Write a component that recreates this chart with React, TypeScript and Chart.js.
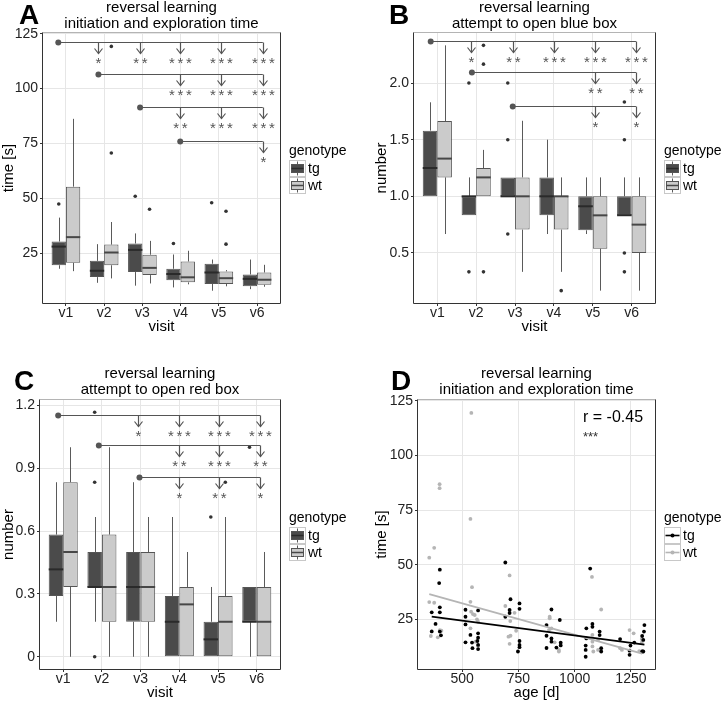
import React, { useEffect, useRef } from 'react';
import { Chart, registerables } from 'chart.js';

Chart.register(...registerables);

const FONT = "'Liberation Sans', Arial, Helvetica, sans-serif";
Chart.defaults.font.family = FONT;

// ---------------- data ----------------
const visits = ['v1', 'v2', 'v3', 'v4', 'v5', 'v6'];
const genotypes = ['tg', 'wt'];

// box stats per visit: [lower whisker, Q1, median, Q3, upper whisker]
// Panel A: initiation and exploration time [s]
const timeTg = [
  [17.9, 19.5, 28.0, 30.3, 41.2],
  [11.5, 14.1, 17.0, 21.5, 29.1],
  [10.2, 16.4, 26.5, 29.4, 34.0],
  [9.4, 12.7, 15.5, 17.9, 24.4],
  [7.9, 11.0, 16.2, 20.2, 22.1],
  [8.6, 9.9, 13.3, 15.3, 22.1],
];
const timeWt = [
  [16.8, 20.6, 32.3, 55.3, 86.2],
  [13.5, 19.5, 25.3, 28.9, 39.2],
  [11.2, 15.0, 18.3, 24.3, 30.6],
  [10.8, 11.7, 14.0, 21.2, 26.1],
  [9.9, 11.0, 13.6, 16.7, 17.3],
  [9.7, 10.6, 12.9, 16.2, 19.7],
];
const timeTgOut = [[47.4], [], [50.9], [29.4], [48.0], []];
const timeWtOut = [[], [70.6, 119.2], [45.0], [], [29.1, 44.1], []];
const timeTicks = [25, 50, 75, 100, 125];
const timeTickLabels = ['25', '50', '75', '100', '125'];

// Panel B: attempts to open blue box
const blueTg = [
  [1.0, 1.0, 1.25, 1.58, 1.83],
  [0.833, 0.833, 1.0, 1.0, 1.167],
  [1.0, 1.0, 1.0, 1.167, 1.167],
  [0.667, 0.833, 1.0, 1.167, 1.5],
  [0.667, 0.7, 0.912, 1.0, 1.167],
  [0.833, 0.833, 0.833, 1.0, 1.167],
];
const blueWt = [
  [0.667, 1.167, 1.333, 1.665, 2.333],
  [1.0, 1.0, 1.167, 1.25, 1.41],
  [0.333, 0.706, 1.0, 1.167, 1.667],
  [0.333, 0.706, 1.0, 1.0, 1.167],
  [0.167, 0.538, 0.832, 1.0, 1.167],
  [0.167, 0.5, 0.75, 1.0, 1.167],
];
const blueTgOut = [[], [0.333, 2.0], [0.667, 1.5, 2.0], [], [], [0.333, 0.5, 1.5, 1.833]];
const blueWtOut = [[], [0.333, 2.167, 2.333], [], [0.167], [], []];
const blueTicks = [0.5, 1.0, 1.5, 2.0];
const blueTickLabels = ['0.5', '1.0', '1.5', '2.0'];

// Panel C: attempts to open red box
const redTg = [
  [0.167, 0.29, 0.417, 0.583, 0.833],
  [0.167, 0.333, 0.333, 0.5, 0.667],
  [0, 0.167, 0.333, 0.5, 0.833],
  [0, 0, 0.167, 0.29, 0.667],
  [0, 0, 0.083, 0.167, 0.333],
  [0, 0.167, 0.167, 0.333, 0.333],
];
const redWt = [
  [0, 0.333, 0.5, 0.833, 1.0],
  [0, 0.167, 0.333, 0.583, 1.0],
  [0, 0.167, 0.333, 0.5, 0.667],
  [0, 0, 0.25, 0.333, 0.5],
  [0, 0, 0.167, 0.29, 0.667],
  [0, 0, 0.167, 0.333, 0.5],
];
const redTgOut = [[], [0, 0.833, 1.167], [], [], [0.667], [1.0]];
const redWtOut = [[], [], [], [], [0.833], []];
const redTicks = [0, 0.3, 0.6, 0.9, 1.2];
const redTickLabels = ['0', '0.3', '0.6', '0.9', '1.2'];

// significance brackets: reference visit position, level, compared positions, stars
const sigA = [
  { from: 0.8, level: 121.0, to: [1.83, 2.93, 3.99, 5.05, 6.15], stars: ['*', '**', '***', '***', '***'] },
  { from: 1.85, level: 106.5, to: [3.99, 5.05, 6.15], stars: ['***', '***', '***'] },
  { from: 2.94, level: 91.8, to: [3.99, 5.05, 6.15], stars: ['**', '***', '***'] },
  { from: 3.99, level: 76.0, to: [6.15], stars: ['*'] },
];
const sigB = [
  { from: 0.83, level: 2.368, to: [1.86, 2.94, 3.99, 5.05, 6.11], stars: ['*', '**', '***', '***', '***'] },
  { from: 1.89, level: 2.094, to: [5.05, 6.11], stars: ['**', '**'] },
  { from: 2.94, level: 1.8, to: [5.05, 6.11], stars: ['*', '*'] },
];
const sigC = [
  { from: 0.87, level: 1.156, to: [2.93, 3.99, 5.02, 6.09], stars: ['*', '***', '***', '***'] },
  { from: 1.92, level: 1.01, to: [3.99, 5.02, 6.09], stars: ['**', '***', '**'] },
  { from: 2.97, level: 0.857, to: [3.99, 5.02, 6.09], stars: ['*', '**', '*'] },
];

// Panel D: age [d] vs time [s]
const tgAge = [692, 401, 398, 715, 755, 755, 401, 401, 365, 515, 571, 515, 711, 711, 692, 515, 382, 365, 401, 406, 537, 571, 571, 568, 515, 544, 571, 546, 571, 755, 755, 755, 748, 1069, 897, 934, 875, 1052, 1079, 1079, 1111, 1111, 875, 897, 897, 938, 938, 875, 919, 1052, 1049, 1049, 1049, 1118, 1118, 1202, 1248, 1244, 1244, 1310, 1308, 1300, 1305, 1305, 1300, 1265];
const tgTime = [51.0, 47.7, 41.6, 34.2, 32.3, 29.8, 30.5, 28.2, 28.2, 29.4, 29.1, 26.2, 29.3, 27.9, 26.2, 22.7, 22.9, 19.5, 19.4, 17.7, 17.9, 18.6, 16.6, 15.1, 14.5, 14.4, 13.3, 11.8, 11.4, 15.1, 13.3, 12.3, 10.3, 48.2, 29.5, 24.7, 22.4, 20.9, 22.9, 21.6, 19.4, 17.8, 17.5, 16.3, 14.8, 14.3, 13.1, 11.9, 12.1, 16.3, 13.0, 11.0, 7.9, 11.8, 10.3, 16.0, 13.0, 10.7, 8.8, 22.4, 19.4, 17.4, 15.6, 10.3, 10.3, 14.4];
const wtAge = [541, 537, 400, 400, 376, 354, 711, 544, 354, 376, 537, 692, 540, 548, 556, 733, 714, 401, 537, 361, 392, 408, 740, 715, 706, 711, 566, 571, 559, 571, 1077, 1118, 889, 889, 886, 897, 911, 930, 930, 1079, 1079, 1079, 1083, 1104, 1104, 1244, 1262, 1202, 1210, 1287, 1300, 1298, 1298];
const wtTime = [119.4, 70.9, 86.8, 85.0, 57.7, 53.2, 45.1, 39.7, 32.9, 32.6, 33.0, 31.1, 28.5, 27.4, 27.0, 28.0, 24.2, 20.1, 20.9, 17.4, 16.8, 19.8, 19.8, 17.5, 17.1, 13.8, 25.0, 23.9, 14.8, 12.9, 44.4, 29.5, 26.2, 25.5, 20.1, 20.9, 14.5, 10.3, 11.0, 17.9, 14.8, 12.6, 10.3, 15.6, 11.0, 20.1, 18.6, 11.8, 11.0, 10.5, 10.5, 14.3, 16.0];
// fitted regression lines (end points)
const tgFitAge = [365, 1310];
const tgFitTime = [26.2, 13.4];
const wtFitAge = [354, 1300];
const wtFitTime = [36.5, 9.3];
const ageTicks = [500, 750, 1000, 1250];
const ageTickLabels = ['500', '750', '1000', '1250'];
const corrLabel = 'r = -0.45';
const corrStars = '***';

// ---------------- style ----------------
const TG_FILL = '#4b4b4b';
const WT_FILL = '#cbcbcb';
const BOX_LINE = '#555555';
const WHISKER = '#5a5a5a';
const MEDIAN_TG = '#2a2a2a';
const MEDIAN_WT = '#474747';
const GRID = '#e6e6e6';
const AXIS = '#333333';
const TICK_COL = '#222222';
const SIG = '#555555';
const TG_PT = '#000000';
const WT_PT = '#b5b5b5';

type Area = { l: number; t: number; r: number; b: number };
type Row = { from: number; level: number; to: number[]; stars: string[] };

interface Deco {
  letter: string; letterX: number; letterY: number;
  title: string[]; titleY: number[];
  yTitle: string; yTitleX: number; xTitle: string; xTitleY: number;
  legend: { x: number; titleY: number; keyTop: number; kind: 'box' | 'line' };
  extra?: (chart: any) => void;
}

function seg(ctx: CanvasRenderingContext2D, x0: number, y0: number, x1: number, y1: number) {
  ctx.beginPath();
  ctx.moveTo(x0, y0);
  ctx.lineTo(x1, y1);
  ctx.stroke();
}

const boxPlugin = {
  id: 'boxExtras',
  afterDatasetsDraw(chart: any) {
    const ctx: CanvasRenderingContext2D = chart.ctx;
    const y = chart.scales.y;
    chart.data.datasets.forEach((ds: any, di: number) => {
      const meta = chart.getDatasetMeta(di);
      meta.data.forEach((el: any, j: number) => {
        const s = ds.stats[j];
        const cx = Math.round(el.x) + 0.5;
        const w = el.width;
        ctx.save();
        ctx.strokeStyle = WHISKER;
        ctx.lineWidth = 1;
        const pLow = y.getPixelForValue(s[0]);
        const pQ1 = y.getPixelForValue(s[1]);
        const pQ3 = y.getPixelForValue(s[3]);
        const pHigh = y.getPixelForValue(s[4]);
        if (pLow - pQ1 > 0.5) seg(ctx, cx, pQ1, cx, pLow);
        if (pQ3 - pHigh > 0.5) seg(ctx, cx, pQ3, cx, pHigh);
        ctx.strokeStyle = di === 0 ? MEDIAN_TG : MEDIAN_WT;
        ctx.lineWidth = 2;
        const pm = y.getPixelForValue(s[2]);
        seg(ctx, el.x - w / 2, pm, el.x + w / 2, pm);
        ctx.fillStyle = '#333333';
        (ds.outs[j] || []).forEach((v: number) => {
          ctx.beginPath();
          ctx.arc(el.x, y.getPixelForValue(v), 1.8, 0, Math.PI * 2);
          ctx.fill();
        });
        ctx.restore();
      });
    });
  },
};

function drawStars(ctx: CanvasRenderingContext2D, stars: string, cx: number, cy: number) {
  const n = stars.length;
  const fs = 15;
  ctx.font = `${fs}px ${FONT}`;
  ctx.textAlign = 'center';
  ctx.textBaseline = 'alphabetic';
  for (let k = 0; k < n; k++) {
    const x = cx + (k - (n - 1) / 2) * 8.5;
    ctx.fillText('*', x, cy + 0.6 * fs);
  }
}

function sigPlugin(rows: Row[]) {
  return {
    id: 'sig',
    afterDatasetsDraw(chart: any) {
      const ctx: CanvasRenderingContext2D = chart.ctx;
      const xs = chart.scales.x;
      const ys = chart.scales.y;
      ctx.save();
      ctx.strokeStyle = SIG;
      ctx.fillStyle = SIG;
      ctx.lineWidth = 1.2;
      rows.forEach((r) => {
        const py = Math.round(ys.getPixelForValue(r.level)) + 0.5;
        const x0 = xs.getPixelForValue(r.from);
        const x1 = xs.getPixelForValue(r.to[r.to.length - 1]);
        seg(ctx, x0, py, x1, py);
        r.to.forEach((t, k) => {
          const px = Math.round(xs.getPixelForValue(t)) + 0.5;
          seg(ctx, px, py, px, py + 11);
          ctx.beginPath();
          ctx.moveTo(px - 4, py + 6);
          ctx.lineTo(px, py + 11);
          ctx.lineTo(px + 4, py + 6);
          ctx.stroke();
          drawStars(ctx, r.stars[k], px, py + 16);
        });
        ctx.beginPath();
        ctx.arc(x0, py, 3, 0, Math.PI * 2);
        ctx.fill();
      });
      ctx.restore();
    },
  };
}

function decorPlugin(d: Deco) {
  return {
    id: 'decor',
    beforeDraw(chart: any) {
      const ctx: CanvasRenderingContext2D = chart.ctx;
      ctx.save();
      ctx.fillStyle = '#ffffff';
      ctx.fillRect(0, 0, chart.width, chart.height);
      ctx.restore();
    },
    afterDraw(chart: any) {
      const ctx: CanvasRenderingContext2D = chart.ctx;
      const a = chart.chartArea;
      ctx.save();
      // panel border
      ctx.lineWidth = 1;
      const L = Math.round(a.left) - 0.5, R = Math.round(a.right) + 0.5;
      const T = Math.round(a.top) - 0.5, B = Math.round(a.bottom) + 0.5;
      ctx.strokeStyle = '#b4b4b4';
      seg(ctx, L, T, R, T);
      ctx.strokeStyle = AXIS;
      seg(ctx, L, T, L, B);
      seg(ctx, L, B, R, B);
      seg(ctx, R, T, R, B);
      // panel letter
      ctx.fillStyle = '#000000';
      ctx.font = `bold 28px ${FONT}`;
      ctx.textAlign = 'left';
      ctx.textBaseline = 'alphabetic';
      ctx.fillText(d.letter, d.letterX, d.letterY);
      // title
      const cx = (a.left + a.right) / 2;
      ctx.font = `15px ${FONT}`;
      ctx.textAlign = 'center';
      ctx.textBaseline = 'middle';
      d.title.forEach((t, i) => ctx.fillText(t, cx, d.titleY[i]));
      // axis titles
      ctx.fillText(d.xTitle, cx, d.xTitleY);
      ctx.save();
      ctx.translate(d.yTitleX, (a.top + a.bottom) / 2);
      ctx.rotate(-Math.PI / 2);
      ctx.fillText(d.yTitle, 0, 0);
      ctx.restore();
      // legend
      const lg = d.legend;
      ctx.textAlign = 'left';
      ctx.font = `14px ${FONT}`;
      ctx.fillText('genotype', lg.x, lg.titleY);
      genotypes.forEach((g, k) => {
        const kx = lg.x + 0.5;
        const ky = lg.keyTop + k * 17 + 0.5;
        ctx.fillStyle = '#ffffff';
        ctx.fillRect(kx, ky, 16, 16);
        ctx.strokeStyle = '#c8c8c8';
        ctx.lineWidth = 1;
        ctx.strokeRect(kx, ky, 16, 16);
        if (lg.kind === 'box') {
          ctx.strokeStyle = WHISKER;
          seg(ctx, kx + 8, ky + 1, kx + 8, ky + 15);
          ctx.fillStyle = k === 0 ? TG_FILL : WT_FILL;
          ctx.fillRect(kx + 2, ky + 4, 12, 8);
          ctx.strokeStyle = BOX_LINE;
          ctx.strokeRect(kx + 2, ky + 4, 12, 8);
          ctx.strokeStyle = k === 0 ? MEDIAN_TG : MEDIAN_WT;
          ctx.lineWidth = 1.5;
          seg(ctx, kx + 2, ky + 8, kx + 14, ky + 8);
        } else {
          const col = k === 0 ? TG_PT : WT_PT;
          ctx.strokeStyle = col;
          ctx.lineWidth = 1.6;
          seg(ctx, kx + 1, ky + 8, kx + 15, ky + 8);
          ctx.fillStyle = col;
          ctx.beginPath();
          ctx.arc(kx + 8, ky + 8, 2, 0, Math.PI * 2);
          ctx.fill();
        }
        ctx.fillStyle = '#000000';
        ctx.font = `14px ${FONT}`;
        ctx.fillText(g, lg.x + 19, lg.keyTop + k * 17 + 9);
      });
      if (d.extra) d.extra(chart);
      ctx.restore();
    },
  };
}

function yScale(min: number, max: number, ticks: number[], labels: string[], width: number) {
  return {
    type: 'linear',
    min,
    max,
    afterBuildTicks: (sc: any) => { sc.ticks = ticks.map((v) => ({ value: v })); },
    afterFit: (sc: any) => { sc.width = width; },
    ticks: {
      callback: (v: number) => labels[ticks.findIndex((t) => Math.abs(t - v) < 1e-9)],
      color: TICK_COL,
      font: { size: 14, lineHeight: 1 },
      padding: 2,
      autoSkip: false,
    },
    grid: { color: GRID, tickColor: AXIS, tickLength: 3, lineWidth: 1 },
    border: { display: false },
  };
}

interface BoxSpec {
  w: number; h: number; area: Area;
  yMin: number; yMax: number; yTicks: number[]; yLabels: string[];
  tg: number[][]; wt: number[][]; tgOut: number[][]; wtOut: number[][];
  rows: Row[]; deco: Deco;
}

function boxConfig(s: BoxSpec): any {
  const mk = (stats: number[][], outs: number[][], fill: string, label: string) => ({
    label,
    data: stats.map((b, i) => ({ x: i + 1, y: [b[1], b[3]] })),
    backgroundColor: fill,
    borderColor: BOX_LINE,
    borderWidth: 1,
    borderSkipped: false,
    categoryPercentage: 0.75,
    barPercentage: 1,
    stats,
    outs,
  });
  return {
    type: 'bar',
    data: { datasets: [mk(s.tg, s.tgOut, TG_FILL, 'tg'), mk(s.wt, s.wtOut, WT_FILL, 'wt')] },
    options: {
      responsive: false,
      animation: false,
      events: [],
      layout: { padding: { left: 0, top: s.area.t, right: s.w - s.area.r, bottom: 0 } },
      plugins: { legend: { display: false }, tooltip: { enabled: false }, title: { display: false } },
      scales: {
        x: {
          type: 'linear',
          min: 0.4,
          max: 6.6,
          offset: false,
          afterBuildTicks: (sc: any) => { sc.ticks = visits.map((_, i) => ({ value: i + 1 })); },
          afterFit: (sc: any) => { sc.height = s.h - s.area.b; },
          ticks: {
            callback: (v: number) => visits[Math.round(v) - 1],
            color: TICK_COL,
            font: { size: 14, lineHeight: 1 },
            padding: 0,
            maxRotation: 0,
            autoSkip: false,
          },
          grid: { color: GRID, tickColor: AXIS, tickLength: 3, offset: false, lineWidth: 1 },
          border: { display: false },
        },
        y: yScale(s.yMin, s.yMax, s.yTicks, s.yLabels, s.area.l),
      },
    },
    plugins: [boxPlugin, sigPlugin(s.rows), decorPlugin(s.deco)],
  };
}

function scatterConfig(w: number, h: number, area: Area, deco: Deco): any {
  return {
    type: 'scatter',
    data: {
      datasets: [
        {
          type: 'line', label: 'tg fit',
          data: tgFitAge.map((a, i) => ({ x: a, y: tgFitTime[i] })),
          borderColor: TG_PT, borderWidth: 1.8, pointRadius: 0, fill: false, order: 0,
        },
        {
          type: 'line', label: 'wt fit',
          data: wtFitAge.map((a, i) => ({ x: a, y: wtFitTime[i] })),
          borderColor: WT_PT, borderWidth: 1.8, pointRadius: 0, fill: false, order: 1,
        },
        {
          label: 'tg',
          data: tgAge.map((a, i) => ({ x: a, y: tgTime[i] })),
          pointBackgroundColor: TG_PT, pointBorderWidth: 0, pointRadius: 1.9, order: 2,
        },
        {
          label: 'wt',
          data: wtAge.map((a, i) => ({ x: a, y: wtTime[i] })),
          pointBackgroundColor: WT_PT, pointBorderWidth: 0, pointRadius: 1.9, order: 3,
        },
      ],
    },
    options: {
      responsive: false,
      animation: false,
      events: [],
      layout: { padding: { left: 0, top: area.t, right: w - area.r, bottom: 0 } },
      plugins: { legend: { display: false }, tooltip: { enabled: false }, title: { display: false } },
      scales: {
        x: {
          type: 'linear',
          min: 304,
          max: 1357,
          afterBuildTicks: (sc: any) => { sc.ticks = ageTicks.map((v) => ({ value: v })); },
          afterFit: (sc: any) => { sc.height = h - area.b; },
          ticks: {
            callback: (v: number) => ageTickLabels[ageTicks.indexOf(v)],
            color: TICK_COL,
            font: { size: 14, lineHeight: 1 },
            padding: 0,
            maxRotation: 0,
            autoSkip: false,
          },
          grid: { color: GRID, tickColor: AXIS, tickLength: 3, lineWidth: 1 },
          border: { display: false },
        },
        y: yScale(2.3, 125.3, timeTicks, timeTickLabels, area.l),
      },
    },
    plugins: [decorPlugin(deco)],
  };
}

const specA: BoxSpec = {
  w: 362, h: 350, area: { l: 43, t: 33, r: 280, b: 303 },
  yMin: 2.3, yMax: 125.3, yTicks: timeTicks, yLabels: timeTickLabels,
  tg: timeTg, wt: timeWt, tgOut: timeTgOut, wtOut: timeWtOut, rows: sigA,
  deco: {
    letter: 'A', letterX: 19, letterY: 24,
    title: ['reversal learning', 'initiation and exploration time'], titleY: [8, 24],
    yTitle: 'time [s]', yTitleX: 9, xTitle: 'visit', xTitleY: 327,
    legend: { x: 289, titleY: 151, keyTop: 160, kind: 'box' },
  },
};

const specB: BoxSpec = {
  w: 362, h: 350, area: { l: 52, t: 33, r: 293, b: 303 },
  yMin: 0.058, yMax: 2.442, yTicks: blueTicks, yLabels: blueTickLabels,
  tg: blueTg, wt: blueWt, tgOut: blueTgOut, wtOut: blueWtOut, rows: sigB,
  deco: {
    letter: 'B', letterX: 27, letterY: 24,
    title: ['reversal learning', 'attempt to open blue box'], titleY: [8, 24],
    yTitle: 'number', yTitleX: 20, xTitle: 'visit', xTitleY: 327,
    legend: { x: 302, titleY: 151, keyTop: 160, kind: 'box' },
  },
};

const specC: BoxSpec = {
  w: 362, h: 353, area: { l: 40, t: 50, r: 280, b: 319 },
  yMin: -0.0585, yMax: 1.2255, yTicks: redTicks, yLabels: redTickLabels,
  tg: redTg, wt: redWt, tgOut: redTgOut, wtOut: redWtOut, rows: sigC,
  deco: {
    letter: 'C', letterX: 14, letterY: 40,
    title: ['reversal learning', 'attempt to open red box'], titleY: [24, 40],
    yTitle: 'number', yTitleX: 9, xTitle: 'visit', xTitleY: 343,
    legend: { x: 289, titleY: 168, keyTop: 177, kind: 'box' },
  },
};

const decoD: Deco = {
  letter: 'D', letterX: 29, letterY: 40,
  title: ['reversal learning', 'initiation and exploration time'], titleY: [24, 40],
  yTitle: 'time [s]', yTitleX: 20, xTitle: 'age [d]', xTitleY: 343,
  legend: { x: 302, titleY: 168, keyTop: 177, kind: 'line' },
  extra: (chart: any) => {
    const ctx: CanvasRenderingContext2D = chart.ctx;
    const a = chart.chartArea;
    ctx.fillStyle = '#000000';
    ctx.textAlign = 'left';
    ctx.textBaseline = 'middle';
    ctx.font = `16px ${FONT}`;
    ctx.fillText(corrLabel, a.left + 165, a.top + 18);
    ctx.fillStyle = '#333333';
    ctx.font = `13px ${FONT}`;
    ctx.textBaseline = 'alphabetic';
    ctx.fillText(corrStars, a.left + 165, a.top + 33 + 0.6 * 13);
  },
};

function ChartCanvas(props: { make: () => any; left: number; top: number; w: number; h: number }) {
  const ref = useRef<HTMLCanvasElement>(null);
  useEffect(() => {
    const chart = new Chart(ref.current as HTMLCanvasElement, props.make());
    return () => chart.destroy();
  }, []);
  return (
    <canvas
      ref={ref}
      width={props.w}
      height={props.h}
      style={{ position: 'absolute', left: props.left, top: props.top, width: props.w, height: props.h }}
    />
  );
}

export default function App() {
  return (
    <div style={{ position: 'absolute', left: 0, top: 0, width: 724, height: 703, background: '#ffffff', overflow: 'hidden' }}>
      <ChartCanvas make={() => boxConfig(specA)} left={0} top={0} w={362} h={350} />
      <ChartCanvas make={() => boxConfig(specB)} left={362} top={0} w={362} h={350} />
      <ChartCanvas make={() => boxConfig(specC)} left={0} top={350} w={362} h={353} />
      <ChartCanvas make={() => scatterConfig(362, 353, { l: 56, t: 50, r: 293, b: 319 }, decoD)} left={362} top={350} w={362} h={353} />
    </div>
  );
}
